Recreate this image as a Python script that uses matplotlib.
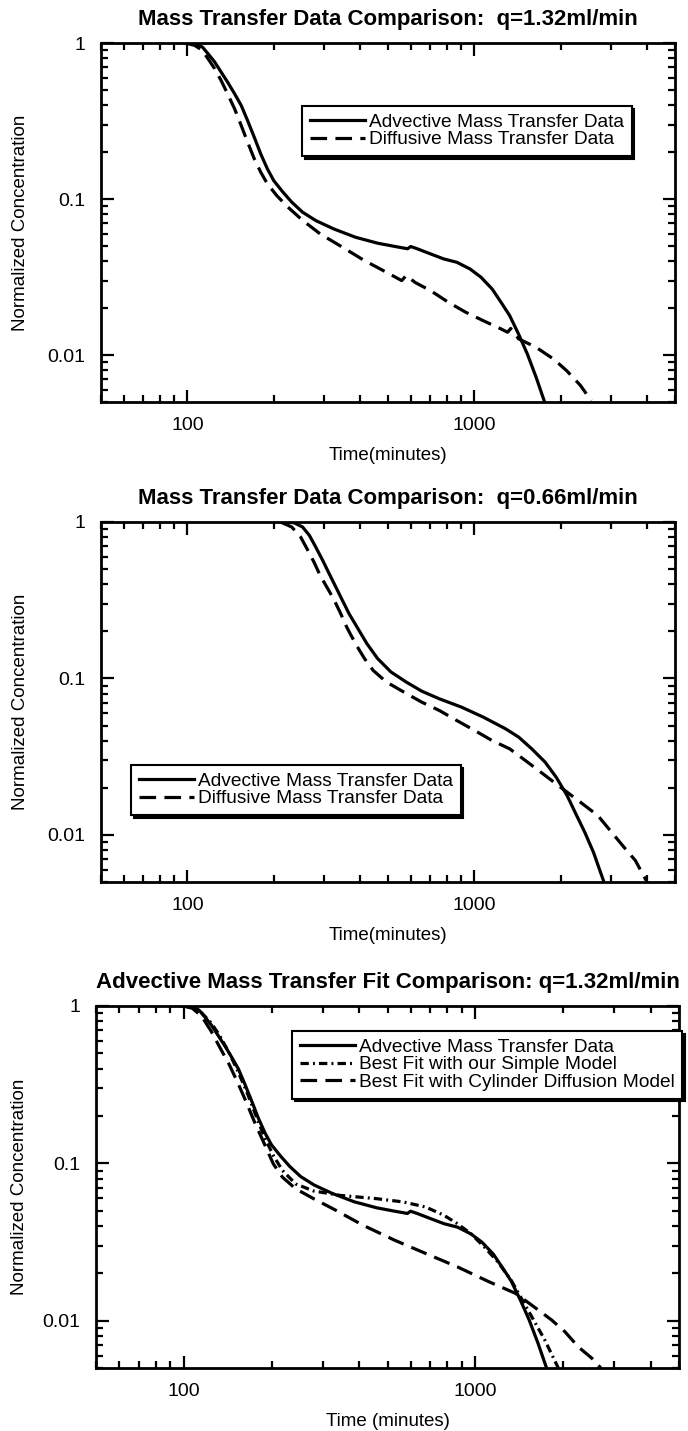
import numpy as np
import matplotlib
matplotlib.use("Agg")
import matplotlib.pyplot as plt
from matplotlib.ticker import LogLocator, FuncFormatter, NullFormatter

plt.rcParams['font.family'] = ['Liberation Sans', 'DejaVu Sans']

# --- q = 1.32 ml/min : advective data (time in minutes, C/C0)
t_adv_132 = [98, 106, 112.7, 118, 124.5, 131, 138, 146, 154, 162, 171, 180, 190, 200, 215, 231,
             252, 280, 323, 385, 460, 530, 585, 600, 632, 703, 782, 869, 966, 1055, 1153, 1238,
             1327, 1426, 1531, 1641, 1763]
c_adv_132 = [1.0, 0.99, 0.943, 0.854, 0.755, 0.652, 0.562, 0.473, 0.398, 0.319, 0.249, 0.195,
             0.156, 0.131, 0.111, 0.0955, 0.0823, 0.0728, 0.0644, 0.0569, 0.0521, 0.0496, 0.048,
             0.0496, 0.048, 0.0445, 0.0413, 0.0393, 0.0356, 0.0315, 0.0265, 0.0218, 0.0179,
             0.0136, 0.0101, 0.0072, 0.0049]

# --- q = 1.32 ml/min : diffusive data
t_dif_132 = [98, 106, 112.7, 118, 124.5, 131, 138, 146, 154, 162, 171, 180, 190, 205, 224, 252,
             290, 347, 414, 494, 558, 579, 621, 703, 811, 933, 1074, 1238, 1305, 1338, 1426,
             1641, 1891, 2102, 2339, 2553]
c_dif_132 = [1.0, 0.966, 0.897, 0.793, 0.684, 0.576, 0.473, 0.379, 0.296, 0.232, 0.181, 0.149,
             0.125, 0.105, 0.0887, 0.073, 0.0598, 0.0491, 0.0403, 0.0339, 0.030, 0.0324, 0.0292,
             0.0259, 0.0218, 0.0188, 0.0166, 0.0147, 0.014, 0.0148, 0.0127, 0.0112, 0.0094,
             0.0079, 0.0064, 0.0051]

# --- q = 0.66 ml/min : advective data
t_adv_066 = [211, 235, 252, 266, 280, 296, 312, 329, 347, 366, 393, 422, 460, 512, 579, 655,
             755, 901, 1074, 1283, 1426, 1584, 1763, 1927, 2102, 2258, 2424, 2599, 2838]
c_adv_066 = [1.0, 0.99, 0.929, 0.822, 0.692, 0.569, 0.467, 0.384, 0.315, 0.259, 0.208, 0.167,
             0.134, 0.11, 0.0948, 0.083, 0.0741, 0.0656, 0.0566, 0.0477, 0.0422, 0.0355, 0.0292,
             0.0234, 0.0179, 0.0136, 0.0104, 0.00775, 0.0049]

# --- q = 0.66 ml/min : diffusive data
t_dif_066 = [211, 231, 248, 261, 276, 290, 306, 323, 340, 359, 385, 414, 444, 494, 568, 655,
             755, 869, 1002, 1153, 1327, 1531, 1763, 2030, 2339, 2692, 3102, 3329, 3638, 3972]
c_dif_066 = [1.0, 0.929, 0.802, 0.675, 0.555, 0.456, 0.384, 0.323, 0.266, 0.213, 0.167, 0.134,
             0.1125, 0.0948, 0.0818, 0.0706, 0.0624, 0.0538, 0.0465, 0.0401, 0.0355, 0.0292,
             0.024, 0.0197, 0.0162, 0.0133, 0.0097, 0.0083, 0.00686, 0.0051]

# --- q = 1.32 ml/min : model fits
t_simple = [100, 107, 115, 124, 133, 143, 153, 164, 176, 189, 203, 218, 242, 279, 345, 459, 567,
            677, 780, 867, 966, 1074, 1194, 1327, 1451, 1585, 1731, 1927]
c_simple = [1.0, 0.976, 0.907, 0.784, 0.646, 0.506, 0.388, 0.289, 0.206, 0.147, 0.112, 0.0901,
            0.074, 0.0667, 0.0625, 0.0596, 0.0568, 0.0527, 0.0468, 0.0414, 0.0357, 0.0294,
            0.0237, 0.0181, 0.0135, 0.0101, 0.00755, 0.005]

t_cyl = [100, 107, 115, 124, 133, 143, 153, 164, 176, 189, 203, 218, 242, 279, 333, 412, 528,
         677, 867, 1112, 1375, 1585, 1827, 2031, 2259, 2512, 2697]
c_cyl = [1.0, 0.967, 0.864, 0.695, 0.545, 0.427, 0.327, 0.244, 0.178, 0.133, 0.099, 0.0817,
         0.0689, 0.0596, 0.0502, 0.0404, 0.0325, 0.0267, 0.022, 0.0177, 0.0149, 0.0123, 0.0101,
         0.0085, 0.0068, 0.00577, 0.005]

titles = ['Mass Transfer Data Comparison:  q=1.32ml/min',
          'Mass Transfer Data Comparison:  q=0.66ml/min',
          'Advective Mass Transfer Fit Comparison: q=1.32ml/min']
xlabels = ['Time(minutes)', 'Time(minutes)', 'Time (minutes)']

LW = 2.3
DASHED = (0, (5.2, 2.6))
DASHDOT = (0, (2.6, 1.3, 0.6, 1.3))


def style_axes(ax, title, xlabel):
    ax.set_xscale('log')
    ax.set_yscale('log')
    ax.set_xlim(50, 5000)
    ax.set_ylim(0.005, 1)
    for s in ax.spines.values():
        s.set_linewidth(2.0)
    ax.xaxis.set_major_locator(LogLocator(base=10))
    ax.yaxis.set_major_locator(LogLocator(base=10))
    ax.xaxis.set_minor_locator(LogLocator(base=10, subs=np.arange(2, 10)))
    ax.yaxis.set_minor_locator(LogLocator(base=10, subs=np.arange(2, 10)))
    fmt = FuncFormatter(lambda v, _: f'{v:g}')
    ax.xaxis.set_major_formatter(fmt)
    ax.yaxis.set_major_formatter(fmt)
    ax.xaxis.set_minor_formatter(NullFormatter())
    ax.yaxis.set_minor_formatter(NullFormatter())
    ax.tick_params(which='both', direction='in', top=True, right=True, width=1.6)
    ax.tick_params(which='major', length=9, labelsize=14, pad=11)
    ax.tick_params(which='minor', length=5)
    ax.set_title(title, fontsize=16, fontweight='bold', pad=13)
    ax.set_xlabel(xlabel, fontsize=13.5)
    ax.set_ylabel('Normalized Concentration', fontsize=13.5)
    ax.xaxis.label.set_va('center')
    ax.yaxis.label.set_va('center')


def add_legend(ax, x0, ytop):
    leg = ax.legend(loc='upper left', bbox_to_anchor=(x0, ytop), fontsize=13.8,
                    frameon=True, fancybox=False, framealpha=1, edgecolor='black',
                    shadow={'color': 'black', 'alpha': 1}, handlelength=2.9,
                    handletextpad=0.2, labelspacing=0.0, borderpad=0.4, borderaxespad=0)
    leg.get_frame().set_linewidth(1.5)
    return leg


fig = plt.figure(figsize=(6.88, 14.31), dpi=100)
W, H = 688, 1431

# axes boxes in pixels: left, top, right, bottom
boxes = [(101, 43, 675, 402), (101, 522, 675, 882), (96, 1006, 679, 1368)]
axes = []
for (l, t, r, b) in boxes:
    axes.append(fig.add_axes([l / W, 1 - b / H, (r - l) / W, (b - t) / H]))

ax1, ax2, ax3 = axes

ax1.plot(t_adv_132, c_adv_132, 'k-', lw=LW, label='Advective Mass Transfer Data')
ax1.plot(t_dif_132, c_dif_132, 'k', ls=DASHED, lw=LW, label='Diffusive Mass Transfer Data')
add_legend(ax1, 0.35, 0.825)

ax2.plot(t_adv_066, c_adv_066, 'k-', lw=LW, label='Advective Mass Transfer Data')
ax2.plot(t_dif_066, c_dif_066, 'k', ls=DASHED, lw=LW, label='Diffusive Mass Transfer Data')
add_legend(ax2, 0.052, 0.325)

ax3.plot(t_adv_132, c_adv_132, 'k-', lw=LW, label='Advective Mass Transfer Data')
ax3.plot(t_simple, c_simple, 'k', ls=DASHDOT, lw=LW, label='Best Fit with our Simple Model')
ax3.plot(t_cyl, c_cyl, 'k', ls=DASHED, lw=LW, label='Best Fit with Cylinder Diffusion Model')
add_legend(ax3, 0.336, 0.931)

for ax, title, xl, (l, t, r, b) in zip(axes, titles, xlabels, boxes):
    style_axes(ax, title, xl)
    ax.xaxis.set_label_coords(0.5, -53 / (b - t))
    ax.yaxis.set_label_coords((20 - l) / (r - l), 0.5)

fig.savefig('out.png', dpi=100)
